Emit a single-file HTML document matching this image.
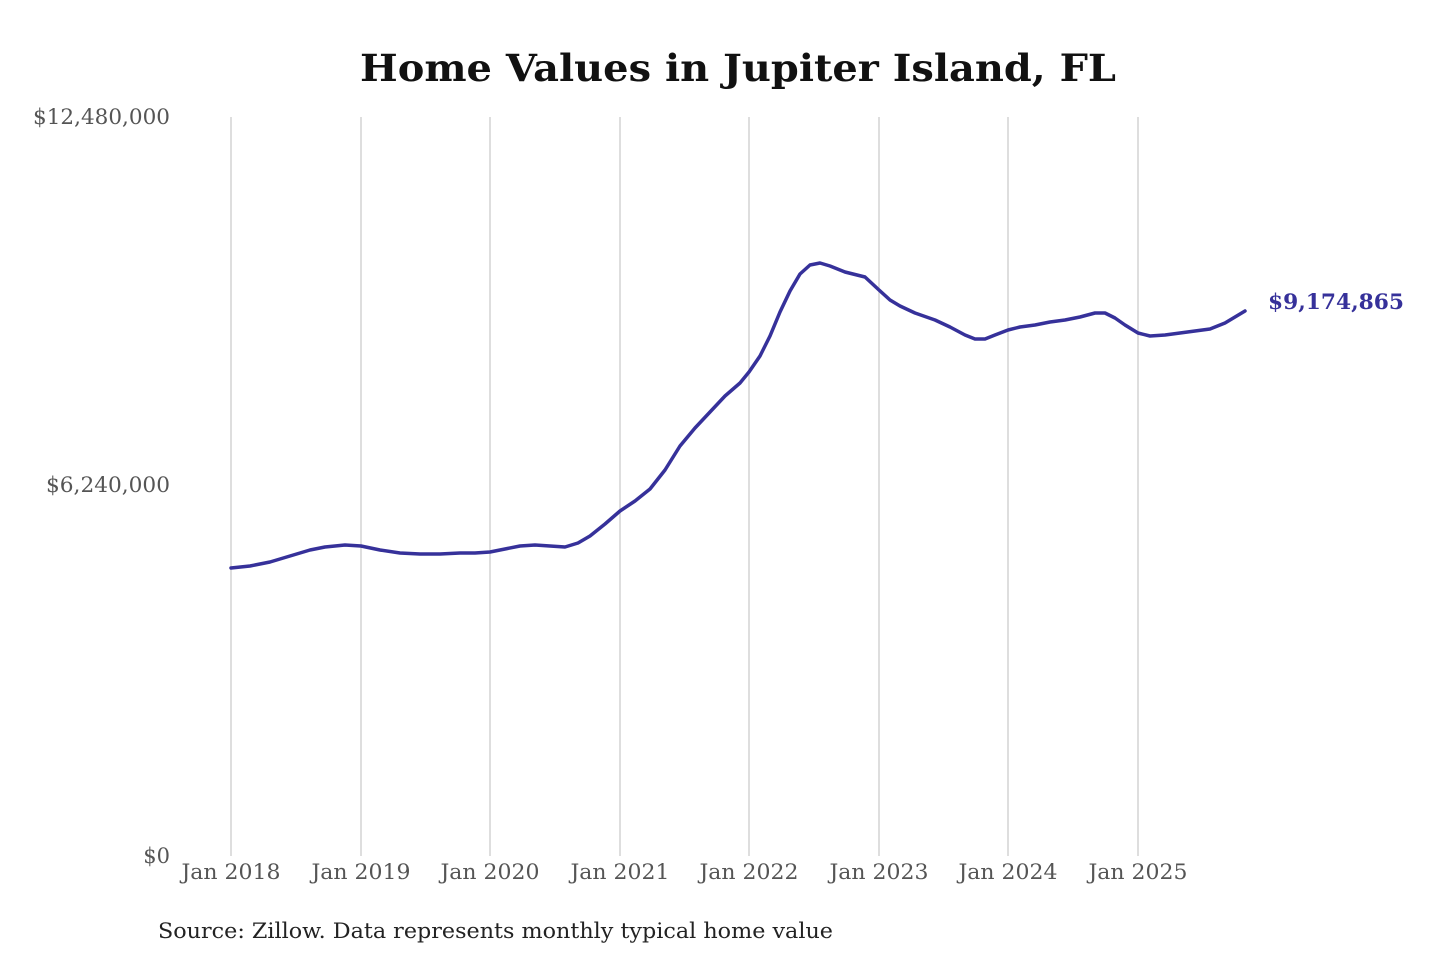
<!DOCTYPE html>
<html><head><meta charset="utf-8"><style>
html,body{margin:0;padding:0;background:#fff;}
svg{display:block;}
text{font-family:"DejaVu Serif","Liberation Serif",serif;}
</style></head><body>
<svg width="1440" height="960" viewBox="0 0 1440 960" xmlns="http://www.w3.org/2000/svg">
<rect width="1440" height="960" fill="#fff"/>
<text x="738" y="81" text-anchor="middle" font-size="37" font-weight="bold" fill="#111" textLength="756" lengthAdjust="spacingAndGlyphs">Home Values in Jupiter Island, FL</text>
<g stroke="#c8c8c8" stroke-width="1.2">
<line x1="231" y1="117" x2="231" y2="856"/>
<line x1="361" y1="117" x2="361" y2="856"/>
<line x1="490" y1="117" x2="490" y2="856"/>
<line x1="620" y1="117" x2="620" y2="856"/>
<line x1="749" y1="117" x2="749" y2="856"/>
<line x1="879" y1="117" x2="879" y2="856"/>
<line x1="1008" y1="117" x2="1008" y2="856"/>
<line x1="1138" y1="117" x2="1138" y2="856"/>
</g>
<g font-size="21" fill="#555" text-anchor="end">
<text x="170" y="124" textLength="137" lengthAdjust="spacingAndGlyphs">$12,480,000</text>
<text x="170" y="492" textLength="124" lengthAdjust="spacingAndGlyphs">$6,240,000</text>
<text x="170" y="863">$0</text>
</g>
<g font-size="21" fill="#555" text-anchor="middle">
<text x="231" y="879" textLength="99" lengthAdjust="spacingAndGlyphs">Jan 2018</text>
<text x="361" y="879" textLength="99" lengthAdjust="spacingAndGlyphs">Jan 2019</text>
<text x="490" y="879" textLength="99" lengthAdjust="spacingAndGlyphs">Jan 2020</text>
<text x="620" y="879" textLength="99" lengthAdjust="spacingAndGlyphs">Jan 2021</text>
<text x="749" y="879" textLength="99" lengthAdjust="spacingAndGlyphs">Jan 2022</text>
<text x="879" y="879" textLength="99" lengthAdjust="spacingAndGlyphs">Jan 2023</text>
<text x="1008" y="879" textLength="99" lengthAdjust="spacingAndGlyphs">Jan 2024</text>
<text x="1138" y="879" textLength="99" lengthAdjust="spacingAndGlyphs">Jan 2025</text>
</g>
<polyline fill="none" stroke="#36319a" stroke-width="3.5" stroke-linejoin="round" stroke-linecap="round" points="231,568 250,566 270,562 290,556 310,550 325,547 345,545 361,546 380,550 400,553 420,554 440,554 460,553 475,553 490,552 505,549 520,546 535,545 550,546 565,547 578,543 590,536 605,524 620,511 635,501 650,489 665,470 680,446 695,428 710,412 725,396 740,383 749,372 760,356 770,336 780,312 790,291 800,274 810,265 820,263 830,266 845,272 865,277 879,290 890,300 900,306 915,313 935,320 950,327 965,335 975,339 985,339 995,335 1008,330 1020,327 1035,325 1050,322 1065,320 1080,317 1095,313 1105,313 1115,318 1125,325 1138,333 1150,336 1165,335 1180,333 1195,331 1210,329 1225,323 1245,311"/>
<text x="1268" y="309" font-size="21" font-weight="bold" fill="#36319a" textLength="136" lengthAdjust="spacingAndGlyphs">$9,174,865</text>
<text x="158" y="938" font-size="21" fill="#222" textLength="675" lengthAdjust="spacingAndGlyphs">Source: Zillow. Data represents monthly typical home value</text>
</svg>
</body></html>
